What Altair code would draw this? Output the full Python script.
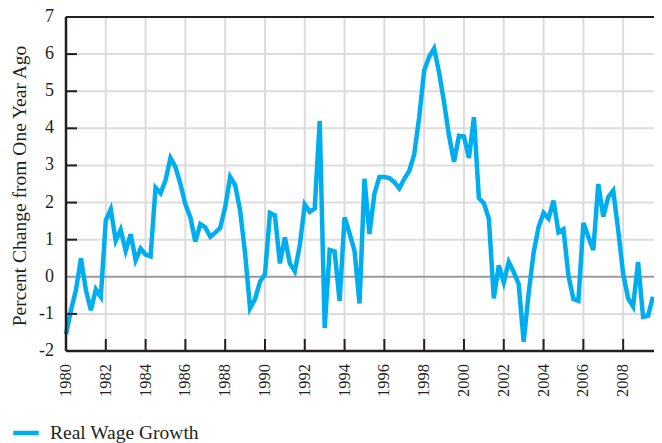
import altair as alt
import pandas as pd

# Quarterly real wage growth, 1980Q1 .. 2009Q3 (percent change from one year ago)
values = [
    -1.55, -0.90, -0.36, 0.50,   # 1980
    -0.36, -0.90, -0.34, -0.54,  # 1981
    1.52, 1.82, 0.97, 1.27,      # 1982
    0.70, 1.15, 0.45, 0.76,      # 1983
    0.60, 0.55, 2.40, 2.25,      # 1984
    2.60, 3.20, 2.96, 2.50,      # 1985
    1.95, 1.60, 0.95, 1.42,      # 1986
    1.33, 1.08, 1.19, 1.32,      # 1987
    1.88, 2.69, 2.47, 1.79,      # 1988
    0.63, -0.85, -0.60, -0.13,   # 1989
    0.07, 1.72, 1.65, 0.36,      # 1990
    1.06, 0.36, 0.15, 0.85,      # 1991
    1.95, 1.75, 1.84, 4.20,      # 1992
    -1.38, 0.72, 0.68, -0.65,    # 1993
    1.60, 1.17, 0.70, -0.72,     # 1994
    2.64, 1.15, 2.24, 2.69,      # 1995
    2.69, 2.66, 2.55, 2.38,      # 1996
    2.64, 2.85, 3.30, 4.30,      # 1997
    5.56, 5.93, 6.15, 5.50,      # 1998
    4.70, 3.80, 3.10, 3.80,      # 1999
    3.78, 3.20, 4.30, 2.12,      # 2000
    1.98, 1.57, -0.58, 0.31,     # 2001
    -0.15, 0.40, 0.13, -0.20,    # 2002
    -1.75, -0.44, 0.65, 1.34,    # 2003
    1.72, 1.57, 2.05, 1.20,      # 2004
    1.28, 0.03, -0.60, -0.65,    # 2005
    1.45, 1.08, 0.72, 2.50,      # 2006
    1.62, 2.15, 2.32, 1.26,      # 2007
    0.08, -0.58, -0.80, 0.40,    # 2008
    -1.08, -1.05, -0.54,         # 2009
]
start_year = 1980
quarters = [start_year + i * 0.25 for i in range(len(values))]
series_name = "Real Wage Growth"
y_title = "Percent Change from One Year Ago"

tick_years = list(range(1980, 2009, 2))
y_ticks = list(range(-2, 8))
grid_years = tick_years[1:]
grid_y = [v for v in y_ticks if v not in (-2, 0, 7)]
zero_line = [0]
top_border = [7]
bottom_border = [-2]
left_border = [1980]

FONT = "Liberation Serif"
TEXT = "#231f20"
GRID = "#dcdcdc"
W, H = 588, 334
X0, X1 = 1980, 2009.55
Y0, Y1 = -2, 7
XTICK_LEN = 12 / (H / (Y1 - Y0))      # 12 px expressed in y units
YTICK_LEN = 11 / (W / (X1 - X0))      # 11 px expressed in x units

xscale = alt.Scale(domain=[X0, X1], nice=False, zero=False)
yscale = alt.Scale(domain=[Y0, Y1], nice=False, zero=False)
Xn = alt.X("t:Q", scale=xscale, axis=None)
Yn = alt.Y("v:Q", scale=yscale, axis=None)

df = pd.DataFrame({"t": quarters, "v": values, "series": [series_name] * len(values)})

# grid segments as line paths (one path per grid line)
grid_rows = []
for yr in grid_years:
    grid_rows += [{"g": f"x{yr}", "t": yr, "v": Y0}, {"g": f"x{yr}", "t": yr, "v": Y1}]
for yv in grid_y:
    grid_rows += [{"g": f"y{yv}", "t": X0, "v": yv}, {"g": f"y{yv}", "t": X1, "v": yv}]
grid = alt.Chart(pd.DataFrame(grid_rows)).mark_line(color=GRID, strokeWidth=2).encode(
    x=Xn, y=Yn, detail="g:N", order="v:Q"
)

tick_rows = []
for yr in grid_years:
    tick_rows += [{"g": f"x{yr}", "t": yr, "v": Y0}, {"g": f"x{yr}", "t": yr, "v": Y0 + XTICK_LEN}]
for yv in grid_y:
    tick_rows += [{"g": f"y{yv}", "t": X0, "v": yv}, {"g": f"y{yv}", "t": X0 + YTICK_LEN, "v": yv}]
ticks = alt.Chart(pd.DataFrame(tick_rows)).mark_line(color=TEXT, strokeWidth=2).encode(
    x=Xn, y=Yn, detail="g:N"
)

zero = alt.Chart(pd.DataFrame({"v": zero_line})).mark_rule(color="#9a9a9a", strokeWidth=2).encode(y=Yn)

line = alt.Chart(df).mark_line(strokeWidth=4.5, strokeJoin="miter").encode(
    x=Xn, y=Yn,
    color=alt.Color("series:N", scale=alt.Scale(domain=[series_name], range=["#00AEEF"]),
                    legend=alt.Legend(orient="none", legendX=-55, legendY=401, title=None,
                                      symbolType="stroke", symbolStrokeWidth=4.5,
                                      symbolSize=650, labelFontSize=19.5, labelOffset=9,
                                      labelFont=FONT, labelColor=TEXT)),
)

top = alt.Chart(pd.DataFrame({"v": top_border})).mark_rule(color=TEXT, strokeWidth=2).encode(y=Yn)
bottom = alt.Chart(pd.DataFrame({"v": bottom_border})).mark_rule(color=TEXT, strokeWidth=2.5).encode(y=Yn)
left = alt.Chart(pd.DataFrame({"t": left_border})).mark_rule(color=TEXT, strokeWidth=2.5).encode(x=Xn)

ylab = alt.Chart(pd.DataFrame({"v": y_ticks, "lab": [str(v) for v in y_ticks]})).mark_text(
    align="right", baseline="middle", font=FONT, fontSize=18, color=TEXT
).encode(y=Yn, x=alt.value(-12), text="lab:N")

xlab = alt.Chart(pd.DataFrame({"t": tick_years, "lab": [str(v) for v in tick_years]})).mark_text(
    align="right", baseline="middle", angle=270, font=FONT, fontSize=16.5, color=TEXT
).encode(x=Xn, y=alt.value(H + 13), text="lab:N")

title = alt.Chart(pd.DataFrame({"lab": [y_title]})).mark_text(
    align="center", baseline="middle", angle=270, font=FONT, fontSize=19.5, color=TEXT
).encode(x=alt.value(-46), y=alt.value(H / 2 + 2), text="lab:N")

chart = alt.layer(grid, zero, line, top, bottom, left, ticks, ylab, xlab, title).properties(
    width=W, height=H,
    padding={"left": 58, "top": 9, "right": 0, "bottom": 92},
    autosize=alt.AutoSizeParams(type="none"),
).configure_view(stroke=None)

chart.save("out.html", embed_options={"renderer": "svg", "actions": False})
